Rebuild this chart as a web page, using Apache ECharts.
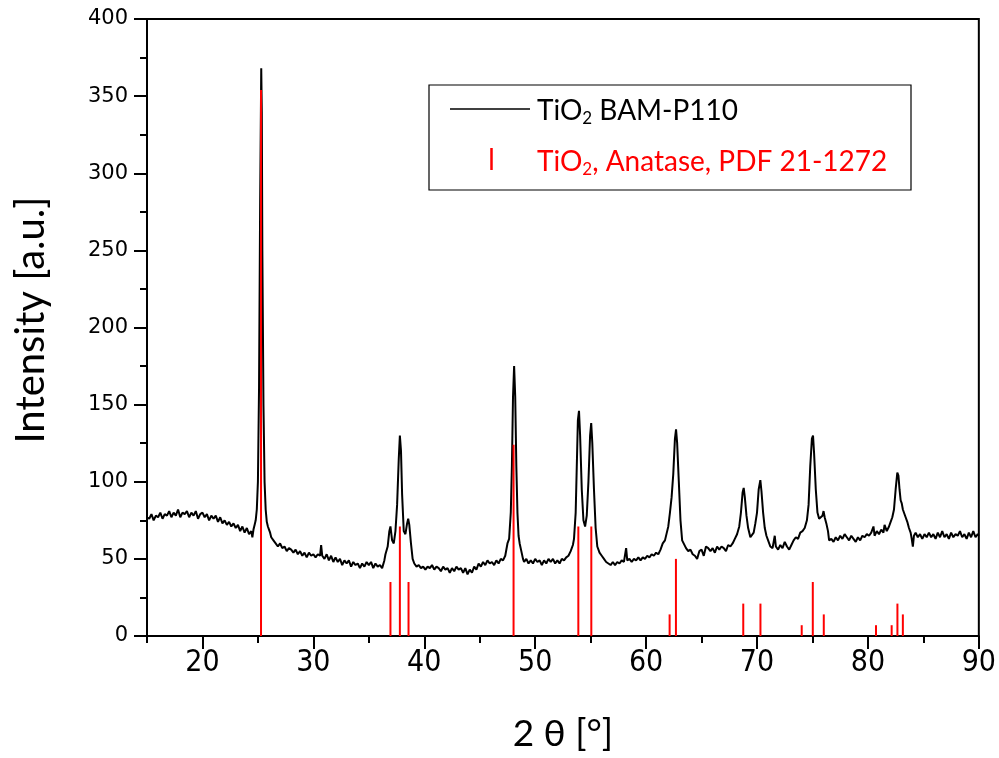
<!DOCTYPE html>
<html>
<head>
<meta charset="utf-8">
<script src="https://cdn.jsdelivr.net/npm/echarts@6/dist/echarts.min.js"></script>
<style>
html,body{margin:0;padding:0;background:#fff;}
#chart{width:999px;height:758px;}
</style>
</head>
<body>
<div id="chart"></div>
<script>
// Measured XRD pattern: [2theta, intensity]
const pattern = [
[15.0,77],[15.2,76],[15.4,79],[15.6,75],[15.8,78],[16.0,77],[16.2,80],[16.4,76],[16.6,79],[16.8,78],
[17.0,81],[17.2,77],[17.4,80],[17.6,78],[17.8,82],[18.0,77],[18.2,80],[18.4,79],[18.6,81],[18.8,77],
[19.0,80],[19.2,78],[19.4,81],[19.6,76],[19.8,79],[20.0,80],[20.2,77],[20.4,79],[20.6,75],[20.8,78],
[21.0,76],[21.2,78],[21.4,74],[21.6,77],[21.8,73],[22.0,75],[22.2,72],[22.4,74],[22.6,71],[22.8,73],
[23.0,70],[23.2,72],[23.4,68],[23.6,71],[23.8,67],[24.0,70],[24.2,66],[24.4,68],[24.5,64],[24.6,69],
[24.7,72],[24.8,75],[24.9,82],[25.0,100],[25.1,160],[25.2,280],[25.3,368],[25.35,340],[25.4,250],[25.5,150],
[25.6,100],[25.7,82],[25.8,74],[25.9,71],[26.0,69],[26.1,67],[26.2,64],[26.4,62],[26.6,60],[26.8,58],
[27.0,60],[27.2,57],[27.4,58],[27.6,55],[27.8,57],[28.0,56],[28.2,54],[28.4,56],[28.6,53],[28.8,55],
[29.0,52],[29.2,54],[29.4,51],[29.6,54],[29.8,52],[30.0,53],[30.2,51],[30.4,53],[30.6,52],[30.7,59],
[30.8,52],[31.0,50],[31.2,53],[31.4,49],[31.6,52],[31.8,48],[32.0,51],[32.2,48],[32.4,50],[32.6,46],
[32.8,49],[33.0,47],[33.2,49],[33.4,45],[33.6,48],[33.8,46],[34.0,47],[34.2,44],[34.4,47],[34.6,45],
[34.8,48],[35.0,46],[35.2,48],[35.4,44],[35.6,47],[35.8,45],[36.0,46],[36.2,44],[36.4,49],[36.5,53],
[36.7,58],[36.85,68],[36.95,71],[37.1,62],[37.25,60],[37.4,68],[37.55,85],[37.7,115],[37.8,130],[37.9,120],
[38.0,92],[38.15,68],[38.3,66],[38.45,73],[38.55,76],[38.65,72],[38.8,60],[38.95,50],[39.1,47],[39.3,45],
[39.5,46],[39.7,44],[39.9,45],[40.1,43],[40.3,45],[40.5,44],[40.7,46],[40.9,43],[41.1,45],[41.3,44],
[41.5,42],[41.7,45],[41.9,43],[42.1,44],[42.3,41],[42.5,44],[42.7,42],[42.9,45],[43.1,43],[43.3,44],
[43.5,41],[43.7,44],[43.9,40],[44.1,43],[44.3,41],[44.5,45],[44.7,43],[44.9,47],[45.1,45],[45.3,48],
[45.5,46],[45.7,49],[45.9,47],[46.1,48],[46.3,46],[46.5,49],[46.7,47],[46.9,50],[47.1,49],[47.3,52],
[47.5,60],[47.65,63],[47.8,80],[47.9,110],[48.0,155],[48.1,175],[48.2,155],[48.3,110],[48.4,80],[48.5,65],
[48.6,60],[48.75,55],[48.9,50],[49.0,48],[49.2,50],[49.4,47],[49.6,49],[49.8,47],[50.0,50],[50.2,48],
[50.4,49],[50.6,46],[50.8,49],[51.0,47],[51.2,50],[51.4,48],[51.6,50],[51.8,47],[52.0,49],[52.2,47],
[52.4,50],[52.6,49],[52.8,51],[53.0,52],[53.2,55],[53.4,59],[53.5,63],[53.65,80],[53.75,110],[53.85,140],
[53.95,146],[54.05,130],[54.2,95],[54.35,75],[54.5,71],[54.65,78],[54.8,100],[54.95,130],[55.05,138],[55.15,125],
[55.3,95],[55.45,70],[55.6,58],[55.8,54],[56.0,52],[56.2,50],[56.4,48],[56.6,47],[56.8,46],[57.0,48],
[57.2,46],[57.4,48],[57.6,47],[57.8,49],[58.0,48],[58.2,57],[58.3,49],[58.5,50],[58.7,48],[58.9,50],
[59.1,49],[59.3,51],[59.5,49],[59.7,51],[59.9,50],[60.1,52],[60.3,51],[60.5,53],[60.7,52],[60.9,54],
[61.1,53],[61.3,56],[61.5,60],[61.7,62],[61.9,68],[62.0,71],[62.15,80],[62.3,90],[62.45,105],[62.6,128],
[62.7,134],[62.8,125],[62.95,100],[63.1,75],[63.25,62],[63.4,61],[63.6,57],[63.8,55],[64.0,56],[64.2,53],
[64.4,52],[64.6,50],[64.8,55],[65.0,56],[65.2,52],[65.4,58],[65.6,57],[65.8,55],[66.0,57],[66.2,54],
[66.4,58],[66.6,56],[66.8,58],[67.0,57],[67.2,55],[67.4,59],[67.6,58],[67.8,60],[68.0,63],[68.2,66],
[68.4,71],[68.55,80],[68.7,93],[68.8,96],[68.9,90],[69.05,78],[69.2,70],[69.4,64],[69.55,63],[69.7,67],
[69.85,73],[70.0,80],[70.15,95],[70.3,101],[70.4,94],[70.55,80],[70.7,70],[70.85,65],[71.0,62],[71.2,58],
[71.4,57],[71.6,65],[71.7,58],[71.9,56],[72.1,59],[72.3,57],[72.5,61],[72.7,58],[72.9,56],[73.1,59],
[73.3,62],[73.5,64],[73.7,63],[73.9,67],[74.1,68],[74.3,70],[74.5,75],[74.65,85],[74.8,110],[74.95,128],
[75.05,130],[75.15,118],[75.3,95],[75.45,80],[75.6,76],[75.75,75],[75.9,78],[76.0,81],[76.1,77],[76.25,73],
[76.4,68],[76.5,62],[76.7,63],[76.9,61],[77.1,64],[77.3,62],[77.5,65],[77.7,63],[77.9,66],[78.1,64],
[78.3,62],[78.5,65],[78.7,63],[78.9,61],[79.1,64],[79.3,62],[79.5,65],[79.7,64],[79.9,66],[80.1,65],
[80.3,67],[80.5,71],[80.6,65],[80.8,68],[81.0,66],[81.2,69],[81.4,67],[81.5,72],[81.7,68],[81.9,71],
[82.0,73],[82.2,77],[82.35,82],[82.5,95],[82.65,106],[82.75,104],[82.85,95],[82.95,88],[83.05,86],[83.15,82],
[83.25,83],[83.4,77],[83.55,74],[83.7,70],[83.85,67],[83.95,63],[84.05,58],[84.15,65],[84.3,67],[84.5,64],
[84.7,66],[84.9,63],[85.1,66],[85.3,64],[85.5,67],[85.7,64],[85.9,66],[86.1,63],[86.3,67],[86.5,64],
[86.7,68],[86.9,64],[87.1,66],[87.3,63],[87.5,67],[87.7,64],[87.9,66],[88.1,65],[88.3,68],[88.5,64],
[88.7,66],[88.9,63],[89.1,67],[89.3,64],[89.5,68],[89.7,64],[89.9,66],[90.0,65]
];
// Reference pattern PDF 21-1272 (anatase) stick positions and heights
const refPositions = [25.28,36.95,37.80,38.58,48.05,53.89,55.06,62.12,62.69,68.76,70.31,74.03,75.03,76.02,80.73,82.14,82.66,83.15];
const refHeights   = [354,35,71,35,124,71,71,14,50,21,21,7,35,14,7,7,21,14];
const xMajorTicks = [20,30,40,50,60,70,80,90];
const xMinorTicks = [15,25,35,45,55,65,75,85];
const seriesNames = ['TiO2 BAM-P110','TiO2, Anatase, PDF 21-1272'];
const yTitle = 'Intensity [a.u.]';
const xTitle = '2 θ [°]';

const sticks = refPositions.map((p,i)=>[p, refHeights[i]]);

const chart = echarts.init(document.getElementById('chart'), null, {renderer:'canvas'});
const option = {
  animation:false,
  backgroundColor:'#fff',
  grid:{left:147, top:19, right:19, bottom:121, show:true, borderColor:'#000', borderWidth:2, backgroundColor:'transparent'},
  xAxis:[{
    type:'value', min:15, max:90,
    axisLine:{show:true, onZero:false, lineStyle:{color:'#000', width:2}},
    axisTick:{show:true, customValues:xMajorTicks, length:13, lineStyle:{color:'#000', width:2}},
    axisLabel:{customValues:xMajorTicks, color:'#000', fontFamily:'"Liberation Sans Narrow","DejaVu Sans Condensed",sans-serif', fontSize:30, margin:12},
    splitLine:{show:false},
    name:xTitle, nameLocation:'middle', nameGap:80,
    nameTextStyle:{color:'#000', fontFamily:'Lato', fontSize:37}
  },{
    type:'value', min:15, max:90, position:'bottom',
    axisLine:{show:false},
    axisTick:{show:true, customValues:xMinorTicks, length:7, lineStyle:{color:'#000', width:2}},
    axisLabel:{show:false}, splitLine:{show:false}
  }],
  yAxis:{
    type:'value', min:0, max:400, interval:50,
    axisLine:{show:true, lineStyle:{color:'#000', width:2}},
    axisTick:{show:true, length:13, lineStyle:{color:'#000', width:2}},
    minorTick:{show:true, splitNumber:2, length:7, lineStyle:{color:'#000', width:2}},
    axisLabel:{color:'#000', fontFamily:'DejaVu Sans', fontSize:21, margin:19},
    splitLine:{show:false}
  },
  series:[{
    name:seriesNames[0], type:'line', data:pattern, showSymbol:false, symbol:'none',
    lineStyle:{color:'#000', width:2}, z:2
  },{
    name:seriesNames[1], type:'custom', data:sticks, z:3,
    renderItem:function(params, api){
      const top = api.coord([api.value(0), api.value(1)]);
      const bot = api.coord([api.value(0), 0]);
      return {type:'line', shape:{x1:top[0], y1:top[1], x2:bot[0], y2:bot[1]}, style:{stroke:'#ff0000', lineWidth:2}};
    }
  }],
  graphic:[
    {type:'text', x:31, y:320, rotation:Math.PI/2, z:11, style:{
      text:yTitle, fill:'#000', fontFamily:'Lato', fontSize:40, align:'center', verticalAlign:'middle'
    }},
    {type:'rect', shape:{x:429, y:85, width:482, height:105}, style:{fill:'#fff', stroke:'#000', lineWidth:1.2}, z:10},
    {type:'line', shape:{x1:450, y1:109, x2:530, y2:109}, style:{stroke:'#000', lineWidth:1.5}, z:11},
    {type:'text', x:537, y:111, z:11, style:{
      text:'TiO{sub|2} BAM-P110', fill:'#000', fontFamily:'Lato', fontSize:28, verticalAlign:'middle',
      rich:{sub:{fontFamily:'Lato', fontSize:17, fill:'#000', padding:[16,0,0,0]}}
    }},
    {type:'line', shape:{x1:491.5, y1:148, x2:491.5, y2:170}, style:{stroke:'#ff0000', lineWidth:2.5}, z:11},
    {type:'text', x:537, y:162, z:11, style:{
      text:'TiO{sub|2}, Anatase, PDF 21-1272', fill:'#ff0000', fontFamily:'Lato', fontSize:28, verticalAlign:'middle',
      rich:{sub:{fontFamily:'Lato', fontSize:17, fill:'#ff0000', padding:[16,0,0,0]}}
    }}
  ]
};
chart.setOption(option);
</script>
</body>
</html>
